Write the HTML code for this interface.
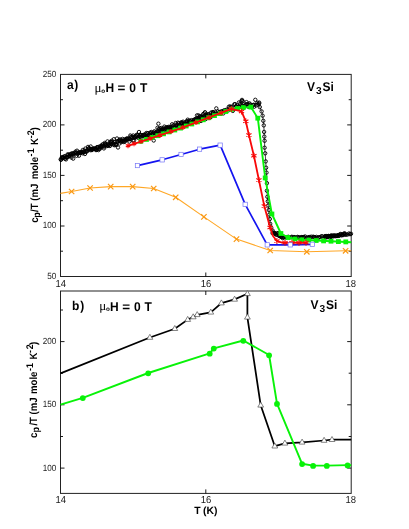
<!DOCTYPE html>
<html><head><meta charset="utf-8"><title>V3Si specific heat</title>
<style>
html,body{margin:0;padding:0;background:#fff;}
body{width:409px;height:529px;overflow:hidden;font-family:"Liberation Sans",sans-serif;}
svg{display:block;text-rendering:geometricPrecision;transform:translateZ(0);will-change:transform;font-family:"Liberation Sans",sans-serif;}
</style></head><body>
<svg width="409" height="529" viewBox="0 0 409 529">
<rect width="409" height="529" fill="#fff"/>
<rect x="60.5" y="74.4" width="290.7" height="202.1" fill="none" stroke="#222" stroke-width="1"/>
<path d="M60.5 251.2h2.5 M351.2 251.2h-2.5" stroke="#000" stroke-width="0.9"/>
<path d="M60.5 226.0h4.0 M351.2 226.0h-4.0" stroke="#000" stroke-width="0.9"/>
<path d="M60.5 200.7h2.5 M351.2 200.7h-2.5" stroke="#000" stroke-width="0.9"/>
<path d="M60.5 175.4h4.0 M351.2 175.4h-4.0" stroke="#000" stroke-width="0.9"/>
<path d="M60.5 150.2h2.5 M351.2 150.2h-2.5" stroke="#000" stroke-width="0.9"/>
<path d="M60.5 124.9h4.0 M351.2 124.9h-4.0" stroke="#000" stroke-width="0.9"/>
<path d="M60.5 99.7h2.5 M351.2 99.7h-2.5" stroke="#000" stroke-width="0.9"/>
<path d="M205.8 276.5v-4 M205.8 74.4v4" stroke="#000" stroke-width="0.9"/>
<rect x="60.5" y="291.0" width="290.7" height="202.4" fill="none" stroke="#222" stroke-width="1"/>
<path d="M60.5 468.1h4.0 M351.2 468.1h-4.0" stroke="#000" stroke-width="0.9"/>
<path d="M60.5 436.5h2.5 M351.2 436.5h-2.5" stroke="#000" stroke-width="0.9"/>
<path d="M60.5 404.8h4.0 M351.2 404.8h-4.0" stroke="#000" stroke-width="0.9"/>
<path d="M60.5 373.2h2.5 M351.2 373.2h-2.5" stroke="#000" stroke-width="0.9"/>
<path d="M60.5 341.6h4.0 M351.2 341.6h-4.0" stroke="#000" stroke-width="0.9"/>
<path d="M60.5 310.0h2.5 M351.2 310.0h-2.5" stroke="#000" stroke-width="0.9"/>
<path d="M205.8 493.4v-4 M205.8 291.0v4" stroke="#000" stroke-width="0.9"/>
<polyline fill="none" stroke="#ffa726" stroke-width="1.1" stroke-linejoin="round"  points="60.5,193.4 71.6,191.5 90.1,188.0 110.7,186.6 132.7,186.6 153.7,188.5 175.7,197.3 203.9,216.9 236.5,239.1 270.2,250.5 306.8,251.8 345.6,250.8 351.2,250.7"/>
<path d="M68.9 188.8l5.4 5.4M74.3 188.8l-5.4 5.4" stroke="#fa9812" stroke-width="1.2" fill="none"/>
<path d="M87.4 185.3l5.4 5.4M92.8 185.3l-5.4 5.4" stroke="#fa9812" stroke-width="1.2" fill="none"/>
<path d="M108.0 183.9l5.4 5.4M113.4 183.9l-5.4 5.4" stroke="#fa9812" stroke-width="1.2" fill="none"/>
<path d="M130.0 183.9l5.4 5.4M135.4 183.9l-5.4 5.4" stroke="#fa9812" stroke-width="1.2" fill="none"/>
<path d="M151.0 185.8l5.4 5.4M156.4 185.8l-5.4 5.4" stroke="#fa9812" stroke-width="1.2" fill="none"/>
<path d="M173.0 194.6l5.4 5.4M178.4 194.6l-5.4 5.4" stroke="#fa9812" stroke-width="1.2" fill="none"/>
<path d="M201.2 214.2l5.4 5.4M206.6 214.2l-5.4 5.4" stroke="#fa9812" stroke-width="1.2" fill="none"/>
<path d="M233.8 236.4l5.4 5.4M239.2 236.4l-5.4 5.4" stroke="#fa9812" stroke-width="1.2" fill="none"/>
<path d="M267.5 247.8l5.4 5.4M272.9 247.8l-5.4 5.4" stroke="#fa9812" stroke-width="1.2" fill="none"/>
<path d="M304.1 249.1l5.4 5.4M309.5 249.1l-5.4 5.4" stroke="#fa9812" stroke-width="1.2" fill="none"/>
<path d="M342.9 248.1l5.4 5.4M348.3 248.1l-5.4 5.4" stroke="#fa9812" stroke-width="1.2" fill="none"/>
<polyline fill="none" stroke="#1414f0" stroke-width="1.7" stroke-linejoin="round"  points="137.5,165.6 162.2,159.8 181.1,154.5 199.6,149.2 220.2,145.2 245.2,204.3 267.2,244.8 290.2,244.8 312.3,244.3"/>
<polyline fill="none" stroke="#000" stroke-width="0.7" stroke-linejoin="round"  points="60.5,158.2 110.0,144.0 145.0,135.3 180.0,125.0 242.0,104.5 259.0,103.2 259.8,107.1 261.6,111.4 262.6,115.7 263.3,120.8 263.8,125.4 264.1,131.9 264.3,136.6 264.6,140.8 264.6,147.7 265.2,153.3 265.7,161.4 266.1,167.7 266.5,172.6 266.9,183.2 266.9,190.7 267.4,196.8 267.8,201.3 268.3,205.6 268.8,210.0 269.3,214.6 269.8,219.0 270.2,223.8 271.2,227.5 272.6,230.5 274.4,233.2 276.5,234.8 279.0,235.9 281.5,236.6 330.0,236.8 351.0,234.0"/>
<circle cx="60.7" cy="159.4" r="1.7" fill="none" stroke="#000" stroke-width="0.92"/>
<circle cx="61.0" cy="159.8" r="1.7" fill="none" stroke="#000" stroke-width="0.92"/>
<circle cx="61.8" cy="157.5" r="1.7" fill="none" stroke="#000" stroke-width="0.92"/>
<circle cx="62.3" cy="158.1" r="1.7" fill="none" stroke="#000" stroke-width="0.92"/>
<circle cx="62.5" cy="157.1" r="1.7" fill="none" stroke="#000" stroke-width="0.92"/>
<circle cx="63.1" cy="157.7" r="1.7" fill="none" stroke="#000" stroke-width="0.92"/>
<circle cx="63.7" cy="157.6" r="1.7" fill="none" stroke="#000" stroke-width="0.92"/>
<circle cx="64.1" cy="156.5" r="1.7" fill="none" stroke="#000" stroke-width="0.92"/>
<circle cx="64.9" cy="158.8" r="1.7" fill="none" stroke="#000" stroke-width="0.92"/>
<circle cx="65.2" cy="156.2" r="1.7" fill="none" stroke="#000" stroke-width="0.92"/>
<circle cx="66.0" cy="159.4" r="1.7" fill="none" stroke="#000" stroke-width="0.92"/>
<circle cx="66.2" cy="157.4" r="1.7" fill="none" stroke="#000" stroke-width="0.92"/>
<circle cx="66.6" cy="157.4" r="1.7" fill="none" stroke="#000" stroke-width="0.92"/>
<circle cx="67.5" cy="157.1" r="1.7" fill="none" stroke="#000" stroke-width="0.92"/>
<circle cx="67.7" cy="154.3" r="1.7" fill="none" stroke="#000" stroke-width="0.92"/>
<circle cx="68.3" cy="154.9" r="1.7" fill="none" stroke="#000" stroke-width="0.92"/>
<circle cx="68.9" cy="156.3" r="1.7" fill="none" stroke="#000" stroke-width="0.92"/>
<circle cx="69.2" cy="155.9" r="1.7" fill="none" stroke="#000" stroke-width="0.92"/>
<circle cx="69.9" cy="154.3" r="1.7" fill="none" stroke="#000" stroke-width="0.92"/>
<circle cx="70.4" cy="155.9" r="1.7" fill="none" stroke="#000" stroke-width="0.92"/>
<circle cx="70.8" cy="154.4" r="1.7" fill="none" stroke="#000" stroke-width="0.92"/>
<circle cx="71.5" cy="157.6" r="1.7" fill="none" stroke="#000" stroke-width="0.92"/>
<circle cx="71.7" cy="153.3" r="1.7" fill="none" stroke="#000" stroke-width="0.92"/>
<circle cx="72.6" cy="153.9" r="1.7" fill="none" stroke="#000" stroke-width="0.92"/>
<circle cx="73.0" cy="153.6" r="1.7" fill="none" stroke="#000" stroke-width="0.92"/>
<circle cx="73.2" cy="158.6" r="1.7" fill="none" stroke="#000" stroke-width="0.92"/>
<circle cx="73.8" cy="154.4" r="1.7" fill="none" stroke="#000" stroke-width="0.92"/>
<circle cx="74.4" cy="153.4" r="1.7" fill="none" stroke="#000" stroke-width="0.92"/>
<circle cx="74.7" cy="152.9" r="1.7" fill="none" stroke="#000" stroke-width="0.92"/>
<circle cx="75.4" cy="151.7" r="1.7" fill="none" stroke="#000" stroke-width="0.92"/>
<circle cx="76.1" cy="152.8" r="1.7" fill="none" stroke="#000" stroke-width="0.92"/>
<circle cx="76.5" cy="155.8" r="1.7" fill="none" stroke="#000" stroke-width="0.92"/>
<circle cx="77.0" cy="150.7" r="1.7" fill="none" stroke="#000" stroke-width="0.92"/>
<circle cx="77.6" cy="154.1" r="1.7" fill="none" stroke="#000" stroke-width="0.92"/>
<circle cx="77.9" cy="152.9" r="1.7" fill="none" stroke="#000" stroke-width="0.92"/>
<circle cx="78.5" cy="152.6" r="1.7" fill="none" stroke="#000" stroke-width="0.92"/>
<circle cx="79.0" cy="155.7" r="1.7" fill="none" stroke="#000" stroke-width="0.92"/>
<circle cx="79.3" cy="152.7" r="1.7" fill="none" stroke="#000" stroke-width="0.92"/>
<circle cx="79.9" cy="152.5" r="1.7" fill="none" stroke="#000" stroke-width="0.92"/>
<circle cx="80.4" cy="152.2" r="1.7" fill="none" stroke="#000" stroke-width="0.92"/>
<circle cx="80.8" cy="152.8" r="1.7" fill="none" stroke="#000" stroke-width="0.92"/>
<circle cx="81.6" cy="152.5" r="1.7" fill="none" stroke="#000" stroke-width="0.92"/>
<circle cx="81.8" cy="152.1" r="1.7" fill="none" stroke="#000" stroke-width="0.92"/>
<circle cx="82.7" cy="153.3" r="1.7" fill="none" stroke="#000" stroke-width="0.92"/>
<circle cx="82.8" cy="150.0" r="1.7" fill="none" stroke="#000" stroke-width="0.92"/>
<circle cx="83.7" cy="152.1" r="1.7" fill="none" stroke="#000" stroke-width="0.92"/>
<circle cx="84.1" cy="152.2" r="1.7" fill="none" stroke="#000" stroke-width="0.92"/>
<circle cx="84.4" cy="150.4" r="1.7" fill="none" stroke="#000" stroke-width="0.92"/>
<circle cx="84.9" cy="154.0" r="1.7" fill="none" stroke="#000" stroke-width="0.92"/>
<circle cx="85.3" cy="148.6" r="1.7" fill="none" stroke="#000" stroke-width="0.92"/>
<circle cx="85.8" cy="151.1" r="1.7" fill="none" stroke="#000" stroke-width="0.92"/>
<circle cx="86.5" cy="151.8" r="1.7" fill="none" stroke="#000" stroke-width="0.92"/>
<circle cx="87.1" cy="150.6" r="1.7" fill="none" stroke="#000" stroke-width="0.92"/>
<circle cx="87.5" cy="150.6" r="1.7" fill="none" stroke="#000" stroke-width="0.92"/>
<circle cx="88.0" cy="146.9" r="1.7" fill="none" stroke="#000" stroke-width="0.92"/>
<circle cx="88.6" cy="148.6" r="1.7" fill="none" stroke="#000" stroke-width="0.92"/>
<circle cx="89.0" cy="148.3" r="1.7" fill="none" stroke="#000" stroke-width="0.92"/>
<circle cx="89.3" cy="148.4" r="1.7" fill="none" stroke="#000" stroke-width="0.92"/>
<circle cx="90.3" cy="150.2" r="1.7" fill="none" stroke="#000" stroke-width="0.92"/>
<circle cx="90.7" cy="146.5" r="1.7" fill="none" stroke="#000" stroke-width="0.92"/>
<circle cx="91.0" cy="148.9" r="1.7" fill="none" stroke="#000" stroke-width="0.92"/>
<circle cx="91.6" cy="149.7" r="1.7" fill="none" stroke="#000" stroke-width="0.92"/>
<circle cx="91.8" cy="150.1" r="1.7" fill="none" stroke="#000" stroke-width="0.92"/>
<circle cx="92.4" cy="149.5" r="1.7" fill="none" stroke="#000" stroke-width="0.92"/>
<circle cx="93.0" cy="148.9" r="1.7" fill="none" stroke="#000" stroke-width="0.92"/>
<circle cx="93.4" cy="148.8" r="1.7" fill="none" stroke="#000" stroke-width="0.92"/>
<circle cx="93.9" cy="148.4" r="1.7" fill="none" stroke="#000" stroke-width="0.92"/>
<circle cx="94.8" cy="148.6" r="1.7" fill="none" stroke="#000" stroke-width="0.92"/>
<circle cx="95.2" cy="148.9" r="1.7" fill="none" stroke="#000" stroke-width="0.92"/>
<circle cx="95.5" cy="149.1" r="1.7" fill="none" stroke="#000" stroke-width="0.92"/>
<circle cx="96.0" cy="150.1" r="1.7" fill="none" stroke="#000" stroke-width="0.92"/>
<circle cx="96.9" cy="149.8" r="1.7" fill="none" stroke="#000" stroke-width="0.92"/>
<circle cx="97.1" cy="147.1" r="1.7" fill="none" stroke="#000" stroke-width="0.92"/>
<circle cx="97.4" cy="147.7" r="1.7" fill="none" stroke="#000" stroke-width="0.92"/>
<circle cx="98.1" cy="147.2" r="1.7" fill="none" stroke="#000" stroke-width="0.92"/>
<circle cx="98.5" cy="150.1" r="1.7" fill="none" stroke="#000" stroke-width="0.92"/>
<circle cx="98.9" cy="148.9" r="1.7" fill="none" stroke="#000" stroke-width="0.92"/>
<circle cx="99.5" cy="146.5" r="1.7" fill="none" stroke="#000" stroke-width="0.92"/>
<circle cx="100.2" cy="148.6" r="1.7" fill="none" stroke="#000" stroke-width="0.92"/>
<circle cx="100.9" cy="146.9" r="1.7" fill="none" stroke="#000" stroke-width="0.92"/>
<circle cx="101.3" cy="146.1" r="1.7" fill="none" stroke="#000" stroke-width="0.92"/>
<circle cx="101.6" cy="145.3" r="1.7" fill="none" stroke="#000" stroke-width="0.92"/>
<circle cx="102.0" cy="146.5" r="1.7" fill="none" stroke="#000" stroke-width="0.92"/>
<circle cx="102.8" cy="144.2" r="1.7" fill="none" stroke="#000" stroke-width="0.92"/>
<circle cx="103.1" cy="146.4" r="1.7" fill="none" stroke="#000" stroke-width="0.92"/>
<circle cx="103.9" cy="148.4" r="1.7" fill="none" stroke="#000" stroke-width="0.92"/>
<circle cx="104.4" cy="146.6" r="1.7" fill="none" stroke="#000" stroke-width="0.92"/>
<circle cx="104.8" cy="142.9" r="1.7" fill="none" stroke="#000" stroke-width="0.92"/>
<circle cx="105.1" cy="144.0" r="1.7" fill="none" stroke="#000" stroke-width="0.92"/>
<circle cx="105.5" cy="145.1" r="1.7" fill="none" stroke="#000" stroke-width="0.92"/>
<circle cx="106.0" cy="144.9" r="1.7" fill="none" stroke="#000" stroke-width="0.92"/>
<circle cx="106.8" cy="146.1" r="1.7" fill="none" stroke="#000" stroke-width="0.92"/>
<circle cx="107.5" cy="141.4" r="1.7" fill="none" stroke="#000" stroke-width="0.92"/>
<circle cx="108.0" cy="145.7" r="1.7" fill="none" stroke="#000" stroke-width="0.92"/>
<circle cx="108.5" cy="143.7" r="1.7" fill="none" stroke="#000" stroke-width="0.92"/>
<circle cx="108.6" cy="145.2" r="1.7" fill="none" stroke="#000" stroke-width="0.92"/>
<circle cx="109.1" cy="144.9" r="1.7" fill="none" stroke="#000" stroke-width="0.92"/>
<circle cx="109.9" cy="146.0" r="1.7" fill="none" stroke="#000" stroke-width="0.92"/>
<circle cx="110.4" cy="141.7" r="1.7" fill="none" stroke="#000" stroke-width="0.92"/>
<circle cx="110.9" cy="144.0" r="1.7" fill="none" stroke="#000" stroke-width="0.92"/>
<circle cx="111.1" cy="142.0" r="1.7" fill="none" stroke="#000" stroke-width="0.92"/>
<circle cx="111.9" cy="140.7" r="1.7" fill="none" stroke="#000" stroke-width="0.92"/>
<circle cx="112.4" cy="142.4" r="1.7" fill="none" stroke="#000" stroke-width="0.92"/>
<circle cx="113.0" cy="143.4" r="1.7" fill="none" stroke="#000" stroke-width="0.92"/>
<circle cx="113.3" cy="144.4" r="1.7" fill="none" stroke="#000" stroke-width="0.92"/>
<circle cx="113.8" cy="139.2" r="1.7" fill="none" stroke="#000" stroke-width="0.92"/>
<circle cx="114.3" cy="145.2" r="1.7" fill="none" stroke="#000" stroke-width="0.92"/>
<circle cx="114.7" cy="142.0" r="1.7" fill="none" stroke="#000" stroke-width="0.92"/>
<circle cx="115.2" cy="144.6" r="1.7" fill="none" stroke="#000" stroke-width="0.92"/>
<circle cx="116.1" cy="145.1" r="1.7" fill="none" stroke="#000" stroke-width="0.92"/>
<circle cx="116.3" cy="144.3" r="1.7" fill="none" stroke="#000" stroke-width="0.92"/>
<circle cx="117.0" cy="138.5" r="1.7" fill="none" stroke="#000" stroke-width="0.92"/>
<circle cx="117.4" cy="141.3" r="1.7" fill="none" stroke="#000" stroke-width="0.92"/>
<circle cx="117.7" cy="141.8" r="1.7" fill="none" stroke="#000" stroke-width="0.92"/>
<circle cx="118.7" cy="140.7" r="1.7" fill="none" stroke="#000" stroke-width="0.92"/>
<circle cx="119.2" cy="140.1" r="1.7" fill="none" stroke="#000" stroke-width="0.92"/>
<circle cx="119.5" cy="143.5" r="1.7" fill="none" stroke="#000" stroke-width="0.92"/>
<circle cx="119.9" cy="139.4" r="1.7" fill="none" stroke="#000" stroke-width="0.92"/>
<circle cx="120.4" cy="141.0" r="1.7" fill="none" stroke="#000" stroke-width="0.92"/>
<circle cx="121.1" cy="142.2" r="1.7" fill="none" stroke="#000" stroke-width="0.92"/>
<circle cx="121.5" cy="140.4" r="1.7" fill="none" stroke="#000" stroke-width="0.92"/>
<circle cx="122.3" cy="141.2" r="1.7" fill="none" stroke="#000" stroke-width="0.92"/>
<circle cx="122.5" cy="138.9" r="1.7" fill="none" stroke="#000" stroke-width="0.92"/>
<circle cx="123.3" cy="141.1" r="1.7" fill="none" stroke="#000" stroke-width="0.92"/>
<circle cx="123.6" cy="142.0" r="1.7" fill="none" stroke="#000" stroke-width="0.92"/>
<circle cx="124.2" cy="139.5" r="1.7" fill="none" stroke="#000" stroke-width="0.92"/>
<circle cx="124.7" cy="141.8" r="1.7" fill="none" stroke="#000" stroke-width="0.92"/>
<circle cx="125.0" cy="140.3" r="1.7" fill="none" stroke="#000" stroke-width="0.92"/>
<circle cx="125.4" cy="140.3" r="1.7" fill="none" stroke="#000" stroke-width="0.92"/>
<circle cx="126.2" cy="139.0" r="1.7" fill="none" stroke="#000" stroke-width="0.92"/>
<circle cx="126.8" cy="138.4" r="1.7" fill="none" stroke="#000" stroke-width="0.92"/>
<circle cx="127.3" cy="139.1" r="1.7" fill="none" stroke="#000" stroke-width="0.92"/>
<circle cx="127.8" cy="139.6" r="1.7" fill="none" stroke="#000" stroke-width="0.92"/>
<circle cx="128.3" cy="138.6" r="1.7" fill="none" stroke="#000" stroke-width="0.92"/>
<circle cx="128.7" cy="138.8" r="1.7" fill="none" stroke="#000" stroke-width="0.92"/>
<circle cx="129.3" cy="141.6" r="1.7" fill="none" stroke="#000" stroke-width="0.92"/>
<circle cx="129.8" cy="139.1" r="1.7" fill="none" stroke="#000" stroke-width="0.92"/>
<circle cx="130.3" cy="135.5" r="1.7" fill="none" stroke="#000" stroke-width="0.92"/>
<circle cx="130.9" cy="136.8" r="1.7" fill="none" stroke="#000" stroke-width="0.92"/>
<circle cx="131.5" cy="138.4" r="1.7" fill="none" stroke="#000" stroke-width="0.92"/>
<circle cx="131.9" cy="136.7" r="1.7" fill="none" stroke="#000" stroke-width="0.92"/>
<circle cx="132.6" cy="137.8" r="1.7" fill="none" stroke="#000" stroke-width="0.92"/>
<circle cx="133.0" cy="140.6" r="1.7" fill="none" stroke="#000" stroke-width="0.92"/>
<circle cx="133.3" cy="135.5" r="1.7" fill="none" stroke="#000" stroke-width="0.92"/>
<circle cx="134.0" cy="140.5" r="1.7" fill="none" stroke="#000" stroke-width="0.92"/>
<circle cx="134.3" cy="136.8" r="1.7" fill="none" stroke="#000" stroke-width="0.92"/>
<circle cx="134.8" cy="137.1" r="1.7" fill="none" stroke="#000" stroke-width="0.92"/>
<circle cx="135.3" cy="137.7" r="1.7" fill="none" stroke="#000" stroke-width="0.92"/>
<circle cx="135.8" cy="136.1" r="1.7" fill="none" stroke="#000" stroke-width="0.92"/>
<circle cx="136.7" cy="134.8" r="1.7" fill="none" stroke="#000" stroke-width="0.92"/>
<circle cx="136.8" cy="136.6" r="1.7" fill="none" stroke="#000" stroke-width="0.92"/>
<circle cx="137.4" cy="134.8" r="1.7" fill="none" stroke="#000" stroke-width="0.92"/>
<circle cx="138.2" cy="137.8" r="1.7" fill="none" stroke="#000" stroke-width="0.92"/>
<circle cx="138.8" cy="136.4" r="1.7" fill="none" stroke="#000" stroke-width="0.92"/>
<circle cx="139.0" cy="132.0" r="1.7" fill="none" stroke="#000" stroke-width="0.92"/>
<circle cx="139.8" cy="136.7" r="1.7" fill="none" stroke="#000" stroke-width="0.92"/>
<circle cx="139.9" cy="134.7" r="1.7" fill="none" stroke="#000" stroke-width="0.92"/>
<circle cx="140.5" cy="136.9" r="1.7" fill="none" stroke="#000" stroke-width="0.92"/>
<circle cx="141.0" cy="135.0" r="1.7" fill="none" stroke="#000" stroke-width="0.92"/>
<circle cx="141.4" cy="138.1" r="1.7" fill="none" stroke="#000" stroke-width="0.92"/>
<circle cx="142.2" cy="135.5" r="1.7" fill="none" stroke="#000" stroke-width="0.92"/>
<circle cx="142.6" cy="135.7" r="1.7" fill="none" stroke="#000" stroke-width="0.92"/>
<circle cx="143.3" cy="134.9" r="1.7" fill="none" stroke="#000" stroke-width="0.92"/>
<circle cx="144.0" cy="135.2" r="1.7" fill="none" stroke="#000" stroke-width="0.92"/>
<circle cx="144.4" cy="135.9" r="1.7" fill="none" stroke="#000" stroke-width="0.92"/>
<circle cx="144.6" cy="135.0" r="1.7" fill="none" stroke="#000" stroke-width="0.92"/>
<circle cx="145.0" cy="135.2" r="1.7" fill="none" stroke="#000" stroke-width="0.92"/>
<circle cx="145.6" cy="133.7" r="1.7" fill="none" stroke="#000" stroke-width="0.92"/>
<circle cx="146.2" cy="137.0" r="1.7" fill="none" stroke="#000" stroke-width="0.92"/>
<circle cx="146.7" cy="133.0" r="1.7" fill="none" stroke="#000" stroke-width="0.92"/>
<circle cx="147.1" cy="136.1" r="1.7" fill="none" stroke="#000" stroke-width="0.92"/>
<circle cx="147.9" cy="133.2" r="1.7" fill="none" stroke="#000" stroke-width="0.92"/>
<circle cx="148.1" cy="136.2" r="1.7" fill="none" stroke="#000" stroke-width="0.92"/>
<circle cx="148.8" cy="134.7" r="1.7" fill="none" stroke="#000" stroke-width="0.92"/>
<circle cx="149.2" cy="135.7" r="1.7" fill="none" stroke="#000" stroke-width="0.92"/>
<circle cx="150.0" cy="132.7" r="1.7" fill="none" stroke="#000" stroke-width="0.92"/>
<circle cx="150.2" cy="133.8" r="1.7" fill="none" stroke="#000" stroke-width="0.92"/>
<circle cx="151.1" cy="132.7" r="1.7" fill="none" stroke="#000" stroke-width="0.92"/>
<circle cx="151.4" cy="132.0" r="1.7" fill="none" stroke="#000" stroke-width="0.92"/>
<circle cx="152.2" cy="134.4" r="1.7" fill="none" stroke="#000" stroke-width="0.92"/>
<circle cx="152.3" cy="134.0" r="1.7" fill="none" stroke="#000" stroke-width="0.92"/>
<circle cx="152.8" cy="134.0" r="1.7" fill="none" stroke="#000" stroke-width="0.92"/>
<circle cx="153.3" cy="132.7" r="1.7" fill="none" stroke="#000" stroke-width="0.92"/>
<circle cx="153.9" cy="132.7" r="1.7" fill="none" stroke="#000" stroke-width="0.92"/>
<circle cx="154.4" cy="131.3" r="1.7" fill="none" stroke="#000" stroke-width="0.92"/>
<circle cx="154.9" cy="134.4" r="1.7" fill="none" stroke="#000" stroke-width="0.92"/>
<circle cx="155.6" cy="132.4" r="1.7" fill="none" stroke="#000" stroke-width="0.92"/>
<circle cx="155.8" cy="133.0" r="1.7" fill="none" stroke="#000" stroke-width="0.92"/>
<circle cx="156.5" cy="134.0" r="1.7" fill="none" stroke="#000" stroke-width="0.92"/>
<circle cx="157.1" cy="131.6" r="1.7" fill="none" stroke="#000" stroke-width="0.92"/>
<circle cx="157.5" cy="127.8" r="1.7" fill="none" stroke="#000" stroke-width="0.92"/>
<circle cx="157.9" cy="131.6" r="1.7" fill="none" stroke="#000" stroke-width="0.92"/>
<circle cx="158.8" cy="129.2" r="1.7" fill="none" stroke="#000" stroke-width="0.92"/>
<circle cx="159.3" cy="131.4" r="1.7" fill="none" stroke="#000" stroke-width="0.92"/>
<circle cx="159.6" cy="128.3" r="1.7" fill="none" stroke="#000" stroke-width="0.92"/>
<circle cx="160.4" cy="130.2" r="1.7" fill="none" stroke="#000" stroke-width="0.92"/>
<circle cx="160.6" cy="131.4" r="1.7" fill="none" stroke="#000" stroke-width="0.92"/>
<circle cx="161.3" cy="128.0" r="1.7" fill="none" stroke="#000" stroke-width="0.92"/>
<circle cx="161.7" cy="129.7" r="1.7" fill="none" stroke="#000" stroke-width="0.92"/>
<circle cx="162.1" cy="130.2" r="1.7" fill="none" stroke="#000" stroke-width="0.92"/>
<circle cx="162.5" cy="129.6" r="1.7" fill="none" stroke="#000" stroke-width="0.92"/>
<circle cx="163.1" cy="128.4" r="1.7" fill="none" stroke="#000" stroke-width="0.92"/>
<circle cx="163.6" cy="131.0" r="1.7" fill="none" stroke="#000" stroke-width="0.92"/>
<circle cx="164.4" cy="126.6" r="1.7" fill="none" stroke="#000" stroke-width="0.92"/>
<circle cx="164.7" cy="129.1" r="1.7" fill="none" stroke="#000" stroke-width="0.92"/>
<circle cx="165.3" cy="130.1" r="1.7" fill="none" stroke="#000" stroke-width="0.92"/>
<circle cx="165.7" cy="127.6" r="1.7" fill="none" stroke="#000" stroke-width="0.92"/>
<circle cx="166.6" cy="128.9" r="1.7" fill="none" stroke="#000" stroke-width="0.92"/>
<circle cx="167.1" cy="127.2" r="1.7" fill="none" stroke="#000" stroke-width="0.92"/>
<circle cx="167.6" cy="127.8" r="1.7" fill="none" stroke="#000" stroke-width="0.92"/>
<circle cx="167.8" cy="128.0" r="1.7" fill="none" stroke="#000" stroke-width="0.92"/>
<circle cx="168.4" cy="128.0" r="1.7" fill="none" stroke="#000" stroke-width="0.92"/>
<circle cx="168.9" cy="126.8" r="1.7" fill="none" stroke="#000" stroke-width="0.92"/>
<circle cx="169.5" cy="127.6" r="1.7" fill="none" stroke="#000" stroke-width="0.92"/>
<circle cx="169.7" cy="127.5" r="1.7" fill="none" stroke="#000" stroke-width="0.92"/>
<circle cx="170.4" cy="127.9" r="1.7" fill="none" stroke="#000" stroke-width="0.92"/>
<circle cx="170.8" cy="128.5" r="1.7" fill="none" stroke="#000" stroke-width="0.92"/>
<circle cx="171.4" cy="127.2" r="1.7" fill="none" stroke="#000" stroke-width="0.92"/>
<circle cx="172.1" cy="124.3" r="1.7" fill="none" stroke="#000" stroke-width="0.92"/>
<circle cx="172.6" cy="126.2" r="1.7" fill="none" stroke="#000" stroke-width="0.92"/>
<circle cx="173.2" cy="127.6" r="1.7" fill="none" stroke="#000" stroke-width="0.92"/>
<circle cx="173.5" cy="125.3" r="1.7" fill="none" stroke="#000" stroke-width="0.92"/>
<circle cx="174.3" cy="127.5" r="1.7" fill="none" stroke="#000" stroke-width="0.92"/>
<circle cx="174.7" cy="128.0" r="1.7" fill="none" stroke="#000" stroke-width="0.92"/>
<circle cx="174.9" cy="127.6" r="1.7" fill="none" stroke="#000" stroke-width="0.92"/>
<circle cx="175.7" cy="123.0" r="1.7" fill="none" stroke="#000" stroke-width="0.92"/>
<circle cx="176.3" cy="125.8" r="1.7" fill="none" stroke="#000" stroke-width="0.92"/>
<circle cx="176.7" cy="124.6" r="1.7" fill="none" stroke="#000" stroke-width="0.92"/>
<circle cx="177.2" cy="126.6" r="1.7" fill="none" stroke="#000" stroke-width="0.92"/>
<circle cx="177.9" cy="122.7" r="1.7" fill="none" stroke="#000" stroke-width="0.92"/>
<circle cx="178.2" cy="126.7" r="1.7" fill="none" stroke="#000" stroke-width="0.92"/>
<circle cx="178.8" cy="123.3" r="1.7" fill="none" stroke="#000" stroke-width="0.92"/>
<circle cx="179.1" cy="125.5" r="1.7" fill="none" stroke="#000" stroke-width="0.92"/>
<circle cx="179.7" cy="124.7" r="1.7" fill="none" stroke="#000" stroke-width="0.92"/>
<circle cx="180.1" cy="125.3" r="1.7" fill="none" stroke="#000" stroke-width="0.92"/>
<circle cx="180.9" cy="122.6" r="1.7" fill="none" stroke="#000" stroke-width="0.92"/>
<circle cx="181.5" cy="123.2" r="1.7" fill="none" stroke="#000" stroke-width="0.92"/>
<circle cx="181.7" cy="122.4" r="1.7" fill="none" stroke="#000" stroke-width="0.92"/>
<circle cx="182.7" cy="123.5" r="1.7" fill="none" stroke="#000" stroke-width="0.92"/>
<circle cx="183.1" cy="121.7" r="1.7" fill="none" stroke="#000" stroke-width="0.92"/>
<circle cx="183.8" cy="125.3" r="1.7" fill="none" stroke="#000" stroke-width="0.92"/>
<circle cx="184.1" cy="124.0" r="1.7" fill="none" stroke="#000" stroke-width="0.92"/>
<circle cx="184.6" cy="122.7" r="1.7" fill="none" stroke="#000" stroke-width="0.92"/>
<circle cx="185.2" cy="124.9" r="1.7" fill="none" stroke="#000" stroke-width="0.92"/>
<circle cx="186.1" cy="124.0" r="1.7" fill="none" stroke="#000" stroke-width="0.92"/>
<circle cx="186.4" cy="122.0" r="1.7" fill="none" stroke="#000" stroke-width="0.92"/>
<circle cx="187.0" cy="121.1" r="1.7" fill="none" stroke="#000" stroke-width="0.92"/>
<circle cx="187.7" cy="119.7" r="1.7" fill="none" stroke="#000" stroke-width="0.92"/>
<circle cx="188.3" cy="122.4" r="1.7" fill="none" stroke="#000" stroke-width="0.92"/>
<circle cx="188.6" cy="121.9" r="1.7" fill="none" stroke="#000" stroke-width="0.92"/>
<circle cx="189.5" cy="120.7" r="1.7" fill="none" stroke="#000" stroke-width="0.92"/>
<circle cx="189.6" cy="123.0" r="1.7" fill="none" stroke="#000" stroke-width="0.92"/>
<circle cx="190.2" cy="120.8" r="1.7" fill="none" stroke="#000" stroke-width="0.92"/>
<circle cx="191.1" cy="122.8" r="1.7" fill="none" stroke="#000" stroke-width="0.92"/>
<circle cx="191.7" cy="120.1" r="1.7" fill="none" stroke="#000" stroke-width="0.92"/>
<circle cx="192.1" cy="122.1" r="1.7" fill="none" stroke="#000" stroke-width="0.92"/>
<circle cx="192.7" cy="122.4" r="1.7" fill="none" stroke="#000" stroke-width="0.92"/>
<circle cx="193.1" cy="122.1" r="1.7" fill="none" stroke="#000" stroke-width="0.92"/>
<circle cx="194.1" cy="120.0" r="1.7" fill="none" stroke="#000" stroke-width="0.92"/>
<circle cx="194.4" cy="119.6" r="1.7" fill="none" stroke="#000" stroke-width="0.92"/>
<circle cx="195.1" cy="120.9" r="1.7" fill="none" stroke="#000" stroke-width="0.92"/>
<circle cx="195.4" cy="119.0" r="1.7" fill="none" stroke="#000" stroke-width="0.92"/>
<circle cx="195.9" cy="120.1" r="1.7" fill="none" stroke="#000" stroke-width="0.92"/>
<circle cx="196.7" cy="118.6" r="1.7" fill="none" stroke="#000" stroke-width="0.92"/>
<circle cx="197.0" cy="115.4" r="1.7" fill="none" stroke="#000" stroke-width="0.92"/>
<circle cx="197.6" cy="118.1" r="1.7" fill="none" stroke="#000" stroke-width="0.92"/>
<circle cx="198.5" cy="115.4" r="1.7" fill="none" stroke="#000" stroke-width="0.92"/>
<circle cx="199.0" cy="118.0" r="1.7" fill="none" stroke="#000" stroke-width="0.92"/>
<circle cx="199.3" cy="119.3" r="1.7" fill="none" stroke="#000" stroke-width="0.92"/>
<circle cx="199.8" cy="116.9" r="1.7" fill="none" stroke="#000" stroke-width="0.92"/>
<circle cx="200.3" cy="116.2" r="1.7" fill="none" stroke="#000" stroke-width="0.92"/>
<circle cx="201.1" cy="117.6" r="1.7" fill="none" stroke="#000" stroke-width="0.92"/>
<circle cx="201.5" cy="116.6" r="1.7" fill="none" stroke="#000" stroke-width="0.92"/>
<circle cx="202.5" cy="118.0" r="1.7" fill="none" stroke="#000" stroke-width="0.92"/>
<circle cx="202.6" cy="117.0" r="1.7" fill="none" stroke="#000" stroke-width="0.92"/>
<circle cx="203.2" cy="114.1" r="1.7" fill="none" stroke="#000" stroke-width="0.92"/>
<circle cx="204.2" cy="115.7" r="1.7" fill="none" stroke="#000" stroke-width="0.92"/>
<circle cx="204.4" cy="113.4" r="1.7" fill="none" stroke="#000" stroke-width="0.92"/>
<circle cx="205.0" cy="112.2" r="1.7" fill="none" stroke="#000" stroke-width="0.92"/>
<circle cx="205.7" cy="119.1" r="1.7" fill="none" stroke="#000" stroke-width="0.92"/>
<circle cx="206.2" cy="114.8" r="1.7" fill="none" stroke="#000" stroke-width="0.92"/>
<circle cx="206.6" cy="116.2" r="1.7" fill="none" stroke="#000" stroke-width="0.92"/>
<circle cx="207.2" cy="116.1" r="1.7" fill="none" stroke="#000" stroke-width="0.92"/>
<circle cx="208.2" cy="114.1" r="1.7" fill="none" stroke="#000" stroke-width="0.92"/>
<circle cx="208.4" cy="114.9" r="1.7" fill="none" stroke="#000" stroke-width="0.92"/>
<circle cx="208.9" cy="116.6" r="1.7" fill="none" stroke="#000" stroke-width="0.92"/>
<circle cx="209.6" cy="117.5" r="1.7" fill="none" stroke="#000" stroke-width="0.92"/>
<circle cx="210.4" cy="113.6" r="1.7" fill="none" stroke="#000" stroke-width="0.92"/>
<circle cx="210.8" cy="117.1" r="1.7" fill="none" stroke="#000" stroke-width="0.92"/>
<circle cx="211.4" cy="112.4" r="1.7" fill="none" stroke="#000" stroke-width="0.92"/>
<circle cx="212.0" cy="116.0" r="1.7" fill="none" stroke="#000" stroke-width="0.92"/>
<circle cx="212.4" cy="114.4" r="1.7" fill="none" stroke="#000" stroke-width="0.92"/>
<circle cx="213.2" cy="112.8" r="1.7" fill="none" stroke="#000" stroke-width="0.92"/>
<circle cx="213.3" cy="112.5" r="1.7" fill="none" stroke="#000" stroke-width="0.92"/>
<circle cx="214.4" cy="114.2" r="1.7" fill="none" stroke="#000" stroke-width="0.92"/>
<circle cx="214.6" cy="114.2" r="1.7" fill="none" stroke="#000" stroke-width="0.92"/>
<circle cx="215.3" cy="112.5" r="1.7" fill="none" stroke="#000" stroke-width="0.92"/>
<circle cx="216.3" cy="108.4" r="1.7" fill="none" stroke="#000" stroke-width="0.92"/>
<circle cx="217.8" cy="111.4" r="1.7" fill="none" stroke="#000" stroke-width="0.92"/>
<circle cx="218.5" cy="113.6" r="1.7" fill="none" stroke="#000" stroke-width="0.92"/>
<circle cx="219.3" cy="112.0" r="1.7" fill="none" stroke="#000" stroke-width="0.92"/>
<circle cx="221.1" cy="111.7" r="1.7" fill="none" stroke="#000" stroke-width="0.92"/>
<circle cx="221.7" cy="111.3" r="1.7" fill="none" stroke="#000" stroke-width="0.92"/>
<circle cx="223.3" cy="113.4" r="1.7" fill="none" stroke="#000" stroke-width="0.92"/>
<circle cx="223.8" cy="110.6" r="1.7" fill="none" stroke="#000" stroke-width="0.92"/>
<circle cx="224.4" cy="110.5" r="1.7" fill="none" stroke="#000" stroke-width="0.92"/>
<circle cx="225.7" cy="110.3" r="1.7" fill="none" stroke="#000" stroke-width="0.92"/>
<circle cx="226.7" cy="109.6" r="1.7" fill="none" stroke="#000" stroke-width="0.92"/>
<circle cx="228.1" cy="110.5" r="1.7" fill="none" stroke="#000" stroke-width="0.92"/>
<circle cx="228.9" cy="106.7" r="1.7" fill="none" stroke="#000" stroke-width="0.92"/>
<circle cx="230.0" cy="106.5" r="1.7" fill="none" stroke="#000" stroke-width="0.92"/>
<circle cx="230.9" cy="107.4" r="1.7" fill="none" stroke="#000" stroke-width="0.92"/>
<circle cx="231.7" cy="106.7" r="1.7" fill="none" stroke="#000" stroke-width="0.92"/>
<circle cx="232.8" cy="110.9" r="1.7" fill="none" stroke="#000" stroke-width="0.92"/>
<circle cx="234.2" cy="104.5" r="1.7" fill="none" stroke="#000" stroke-width="0.92"/>
<circle cx="235.0" cy="104.1" r="1.7" fill="none" stroke="#000" stroke-width="0.92"/>
<circle cx="236.1" cy="106.0" r="1.7" fill="none" stroke="#000" stroke-width="0.92"/>
<circle cx="237.3" cy="107.1" r="1.7" fill="none" stroke="#000" stroke-width="0.92"/>
<circle cx="238.8" cy="106.8" r="1.7" fill="none" stroke="#000" stroke-width="0.92"/>
<circle cx="238.9" cy="102.5" r="1.7" fill="none" stroke="#000" stroke-width="0.92"/>
<circle cx="240.0" cy="103.9" r="1.7" fill="none" stroke="#000" stroke-width="0.92"/>
<circle cx="241.5" cy="101.1" r="1.7" fill="none" stroke="#000" stroke-width="0.92"/>
<circle cx="158.4" cy="123.7" r="1.7" fill="none" stroke="#000" stroke-width="0.92"/>
<circle cx="153.7" cy="140.5" r="1.7" fill="none" stroke="#000" stroke-width="0.92"/>
<circle cx="242.0" cy="99.9" r="1.7" fill="none" stroke="#000" stroke-width="0.92"/>
<circle cx="201.0" cy="121.0" r="1.7" fill="none" stroke="#000" stroke-width="0.92"/>
<circle cx="213.0" cy="112.0" r="1.7" fill="none" stroke="#000" stroke-width="0.92"/>
<circle cx="118.0" cy="147.5" r="1.7" fill="none" stroke="#000" stroke-width="0.92"/>
<circle cx="240.5" cy="106.8" r="1.7" fill="none" stroke="#000" stroke-width="0.92"/>
<circle cx="241.6" cy="104.9" r="1.7" fill="none" stroke="#000" stroke-width="0.92"/>
<circle cx="242.4" cy="107.8" r="1.7" fill="none" stroke="#000" stroke-width="0.92"/>
<circle cx="242.7" cy="101.1" r="1.7" fill="none" stroke="#000" stroke-width="0.92"/>
<circle cx="243.4" cy="106.1" r="1.7" fill="none" stroke="#000" stroke-width="0.92"/>
<circle cx="244.7" cy="106.6" r="1.7" fill="none" stroke="#000" stroke-width="0.92"/>
<circle cx="245.8" cy="104.3" r="1.7" fill="none" stroke="#000" stroke-width="0.92"/>
<circle cx="246.5" cy="102.1" r="1.7" fill="none" stroke="#000" stroke-width="0.92"/>
<circle cx="247.0" cy="104.2" r="1.7" fill="none" stroke="#000" stroke-width="0.92"/>
<circle cx="248.2" cy="104.4" r="1.7" fill="none" stroke="#000" stroke-width="0.92"/>
<circle cx="248.5" cy="106.8" r="1.7" fill="none" stroke="#000" stroke-width="0.92"/>
<circle cx="249.4" cy="103.3" r="1.7" fill="none" stroke="#000" stroke-width="0.92"/>
<circle cx="250.1" cy="104.5" r="1.7" fill="none" stroke="#000" stroke-width="0.92"/>
<circle cx="251.4" cy="107.0" r="1.7" fill="none" stroke="#000" stroke-width="0.92"/>
<circle cx="251.8" cy="106.4" r="1.7" fill="none" stroke="#000" stroke-width="0.92"/>
<circle cx="253.0" cy="105.3" r="1.7" fill="none" stroke="#000" stroke-width="0.92"/>
<circle cx="253.7" cy="104.7" r="1.7" fill="none" stroke="#000" stroke-width="0.92"/>
<circle cx="254.2" cy="106.7" r="1.7" fill="none" stroke="#000" stroke-width="0.92"/>
<circle cx="255.3" cy="99.8" r="1.7" fill="none" stroke="#000" stroke-width="0.92"/>
<circle cx="256.4" cy="105.3" r="1.7" fill="none" stroke="#000" stroke-width="0.92"/>
<circle cx="257.4" cy="102.8" r="1.7" fill="none" stroke="#000" stroke-width="0.92"/>
<circle cx="257.7" cy="104.3" r="1.7" fill="none" stroke="#000" stroke-width="0.92"/>
<circle cx="259.1" cy="103.6" r="1.7" fill="none" stroke="#000" stroke-width="0.92"/>
<circle cx="259.2" cy="102.6" r="1.7" fill="none" stroke="#000" stroke-width="0.92"/>
<circle cx="259.8" cy="107.1" r="1.7" fill="none" stroke="#000" stroke-width="0.92"/>
<circle cx="261.6" cy="111.4" r="1.7" fill="none" stroke="#000" stroke-width="0.92"/>
<circle cx="262.6" cy="115.7" r="1.7" fill="none" stroke="#000" stroke-width="0.92"/>
<circle cx="263.3" cy="120.8" r="1.7" fill="none" stroke="#000" stroke-width="0.92"/>
<circle cx="263.8" cy="125.4" r="1.7" fill="none" stroke="#000" stroke-width="0.92"/>
<circle cx="264.1" cy="131.9" r="1.7" fill="none" stroke="#000" stroke-width="0.92"/>
<circle cx="264.3" cy="136.6" r="1.7" fill="none" stroke="#000" stroke-width="0.92"/>
<circle cx="264.6" cy="140.8" r="1.7" fill="none" stroke="#000" stroke-width="0.92"/>
<circle cx="264.6" cy="147.7" r="1.7" fill="none" stroke="#000" stroke-width="0.92"/>
<circle cx="265.2" cy="153.3" r="1.7" fill="none" stroke="#000" stroke-width="0.92"/>
<circle cx="265.7" cy="161.4" r="1.7" fill="none" stroke="#000" stroke-width="0.92"/>
<circle cx="266.1" cy="167.7" r="1.7" fill="none" stroke="#000" stroke-width="0.92"/>
<circle cx="266.5" cy="172.6" r="1.7" fill="none" stroke="#000" stroke-width="0.92"/>
<circle cx="266.9" cy="183.2" r="1.7" fill="none" stroke="#000" stroke-width="0.92"/>
<circle cx="266.9" cy="190.7" r="1.7" fill="none" stroke="#000" stroke-width="0.92"/>
<circle cx="267.4" cy="196.8" r="1.7" fill="none" stroke="#000" stroke-width="0.92"/>
<circle cx="267.8" cy="201.3" r="1.7" fill="none" stroke="#000" stroke-width="0.92"/>
<circle cx="268.3" cy="205.6" r="1.7" fill="none" stroke="#000" stroke-width="0.92"/>
<circle cx="268.8" cy="210.0" r="1.7" fill="none" stroke="#000" stroke-width="0.92"/>
<circle cx="269.3" cy="214.6" r="1.7" fill="none" stroke="#000" stroke-width="0.92"/>
<circle cx="269.8" cy="219.0" r="1.7" fill="none" stroke="#000" stroke-width="0.92"/>
<circle cx="270.2" cy="223.8" r="1.7" fill="none" stroke="#000" stroke-width="0.92"/>
<circle cx="271.2" cy="227.5" r="1.7" fill="none" stroke="#000" stroke-width="0.92"/>
<circle cx="272.6" cy="230.5" r="1.7" fill="none" stroke="#000" stroke-width="0.92"/>
<circle cx="274.4" cy="233.2" r="1.7" fill="none" stroke="#000" stroke-width="0.92"/>
<circle cx="276.5" cy="234.8" r="1.7" fill="none" stroke="#000" stroke-width="0.92"/>
<circle cx="279.0" cy="235.9" r="1.7" fill="none" stroke="#000" stroke-width="0.92"/>
<circle cx="281.5" cy="236.6" r="1.7" fill="none" stroke="#000" stroke-width="0.92"/>
<circle cx="283.6" cy="237.2" r="1.7" fill="none" stroke="#000" stroke-width="0.92"/>
<circle cx="284.5" cy="237.0" r="1.7" fill="none" stroke="#000" stroke-width="0.92"/>
<circle cx="286.3" cy="237.6" r="1.7" fill="none" stroke="#000" stroke-width="0.92"/>
<circle cx="286.7" cy="237.2" r="1.7" fill="none" stroke="#000" stroke-width="0.92"/>
<circle cx="288.3" cy="236.8" r="1.7" fill="none" stroke="#000" stroke-width="0.92"/>
<circle cx="289.4" cy="237.5" r="1.7" fill="none" stroke="#000" stroke-width="0.92"/>
<circle cx="291.3" cy="237.2" r="1.7" fill="none" stroke="#000" stroke-width="0.92"/>
<circle cx="291.8" cy="236.8" r="1.7" fill="none" stroke="#000" stroke-width="0.92"/>
<circle cx="294.0" cy="237.0" r="1.7" fill="none" stroke="#000" stroke-width="0.92"/>
<circle cx="294.3" cy="237.8" r="1.7" fill="none" stroke="#000" stroke-width="0.92"/>
<circle cx="295.5" cy="237.2" r="1.7" fill="none" stroke="#000" stroke-width="0.92"/>
<circle cx="297.6" cy="236.9" r="1.7" fill="none" stroke="#000" stroke-width="0.92"/>
<circle cx="298.3" cy="237.2" r="1.7" fill="none" stroke="#000" stroke-width="0.92"/>
<circle cx="299.4" cy="237.4" r="1.7" fill="none" stroke="#000" stroke-width="0.92"/>
<circle cx="301.0" cy="237.3" r="1.7" fill="none" stroke="#000" stroke-width="0.92"/>
<circle cx="301.9" cy="237.0" r="1.7" fill="none" stroke="#000" stroke-width="0.92"/>
<circle cx="302.9" cy="237.3" r="1.7" fill="none" stroke="#000" stroke-width="0.92"/>
<circle cx="303.9" cy="237.0" r="1.7" fill="none" stroke="#000" stroke-width="0.92"/>
<circle cx="305.1" cy="236.5" r="1.7" fill="none" stroke="#000" stroke-width="0.92"/>
<circle cx="307.4" cy="237.5" r="1.7" fill="none" stroke="#000" stroke-width="0.92"/>
<circle cx="308.4" cy="237.8" r="1.7" fill="none" stroke="#000" stroke-width="0.92"/>
<circle cx="309.1" cy="237.0" r="1.7" fill="none" stroke="#000" stroke-width="0.92"/>
<circle cx="310.2" cy="237.5" r="1.7" fill="none" stroke="#000" stroke-width="0.92"/>
<circle cx="311.2" cy="236.7" r="1.7" fill="none" stroke="#000" stroke-width="0.92"/>
<circle cx="313.2" cy="236.7" r="1.7" fill="none" stroke="#000" stroke-width="0.92"/>
<circle cx="314.0" cy="237.1" r="1.7" fill="none" stroke="#000" stroke-width="0.92"/>
<circle cx="315.1" cy="237.2" r="1.7" fill="none" stroke="#000" stroke-width="0.92"/>
<circle cx="316.5" cy="236.9" r="1.7" fill="none" stroke="#000" stroke-width="0.92"/>
<circle cx="318.5" cy="237.5" r="1.7" fill="none" stroke="#000" stroke-width="0.92"/>
<circle cx="318.8" cy="237.4" r="1.7" fill="none" stroke="#000" stroke-width="0.92"/>
<circle cx="320.2" cy="237.1" r="1.7" fill="none" stroke="#000" stroke-width="0.92"/>
<circle cx="321.5" cy="236.2" r="1.7" fill="none" stroke="#000" stroke-width="0.92"/>
<circle cx="322.3" cy="236.4" r="1.7" fill="none" stroke="#000" stroke-width="0.92"/>
<circle cx="324.6" cy="236.8" r="1.7" fill="none" stroke="#000" stroke-width="0.92"/>
<circle cx="324.9" cy="236.2" r="1.7" fill="none" stroke="#000" stroke-width="0.92"/>
<circle cx="325.9" cy="237.3" r="1.7" fill="none" stroke="#000" stroke-width="0.92"/>
<circle cx="327.6" cy="236.9" r="1.7" fill="none" stroke="#000" stroke-width="0.92"/>
<circle cx="328.4" cy="236.1" r="1.7" fill="none" stroke="#000" stroke-width="0.92"/>
<circle cx="329.6" cy="237.4" r="1.7" fill="none" stroke="#000" stroke-width="0.92"/>
<circle cx="331.1" cy="236.9" r="1.7" fill="none" stroke="#000" stroke-width="0.92"/>
<circle cx="272.6" cy="233.3" r="1.7" fill="none" stroke="#000" stroke-width="0.92"/>
<circle cx="273.0" cy="232.5" r="1.7" fill="none" stroke="#000" stroke-width="0.92"/>
<circle cx="274.3" cy="233.0" r="1.7" fill="none" stroke="#000" stroke-width="0.92"/>
<circle cx="274.9" cy="233.3" r="1.7" fill="none" stroke="#000" stroke-width="0.92"/>
<circle cx="275.4" cy="233.9" r="1.7" fill="none" stroke="#000" stroke-width="0.92"/>
<circle cx="276.5" cy="234.4" r="1.7" fill="none" stroke="#000" stroke-width="0.92"/>
<circle cx="277.4" cy="233.4" r="1.7" fill="none" stroke="#000" stroke-width="0.92"/>
<circle cx="277.5" cy="233.3" r="1.7" fill="none" stroke="#000" stroke-width="0.92"/>
<circle cx="278.5" cy="233.2" r="1.7" fill="none" stroke="#000" stroke-width="0.92"/>
<circle cx="279.8" cy="236.0" r="1.7" fill="none" stroke="#000" stroke-width="0.92"/>
<circle cx="280.2" cy="235.8" r="1.7" fill="none" stroke="#000" stroke-width="0.92"/>
<circle cx="281.0" cy="237.0" r="1.7" fill="none" stroke="#000" stroke-width="0.92"/>
<circle cx="282.2" cy="237.2" r="1.7" fill="none" stroke="#000" stroke-width="0.92"/>
<circle cx="282.8" cy="238.2" r="1.7" fill="none" stroke="#000" stroke-width="0.92"/>
<circle cx="325.5" cy="236.8" r="1.7" fill="none" stroke="#000" stroke-width="0.92"/>
<circle cx="325.8" cy="236.1" r="1.7" fill="none" stroke="#000" stroke-width="0.92"/>
<circle cx="326.4" cy="236.1" r="1.7" fill="none" stroke="#000" stroke-width="0.92"/>
<circle cx="326.9" cy="237.2" r="1.7" fill="none" stroke="#000" stroke-width="0.92"/>
<circle cx="327.6" cy="236.5" r="1.7" fill="none" stroke="#000" stroke-width="0.92"/>
<circle cx="328.1" cy="236.1" r="1.7" fill="none" stroke="#000" stroke-width="0.92"/>
<circle cx="328.7" cy="236.0" r="1.7" fill="none" stroke="#000" stroke-width="0.92"/>
<circle cx="329.9" cy="236.2" r="1.7" fill="none" stroke="#000" stroke-width="0.92"/>
<circle cx="330.5" cy="236.6" r="1.7" fill="none" stroke="#000" stroke-width="0.92"/>
<circle cx="330.6" cy="236.2" r="1.7" fill="none" stroke="#000" stroke-width="0.92"/>
<circle cx="331.2" cy="235.4" r="1.7" fill="none" stroke="#000" stroke-width="0.92"/>
<circle cx="332.1" cy="236.1" r="1.7" fill="none" stroke="#000" stroke-width="0.92"/>
<circle cx="332.6" cy="235.5" r="1.7" fill="none" stroke="#000" stroke-width="0.92"/>
<circle cx="333.4" cy="236.2" r="1.7" fill="none" stroke="#000" stroke-width="0.92"/>
<circle cx="334.1" cy="236.2" r="1.7" fill="none" stroke="#000" stroke-width="0.92"/>
<circle cx="334.3" cy="235.3" r="1.7" fill="none" stroke="#000" stroke-width="0.92"/>
<circle cx="335.4" cy="235.6" r="1.7" fill="none" stroke="#000" stroke-width="0.92"/>
<circle cx="335.7" cy="236.2" r="1.7" fill="none" stroke="#000" stroke-width="0.92"/>
<circle cx="336.6" cy="235.7" r="1.7" fill="none" stroke="#000" stroke-width="0.92"/>
<circle cx="336.9" cy="235.9" r="1.7" fill="none" stroke="#000" stroke-width="0.92"/>
<circle cx="337.4" cy="235.9" r="1.7" fill="none" stroke="#000" stroke-width="0.92"/>
<circle cx="338.2" cy="235.0" r="1.7" fill="none" stroke="#000" stroke-width="0.92"/>
<circle cx="338.8" cy="235.9" r="1.7" fill="none" stroke="#000" stroke-width="0.92"/>
<circle cx="339.3" cy="235.3" r="1.7" fill="none" stroke="#000" stroke-width="0.92"/>
<circle cx="340.3" cy="234.4" r="1.7" fill="none" stroke="#000" stroke-width="0.92"/>
<circle cx="340.5" cy="234.0" r="1.7" fill="none" stroke="#000" stroke-width="0.92"/>
<circle cx="341.4" cy="235.4" r="1.7" fill="none" stroke="#000" stroke-width="0.92"/>
<circle cx="342.2" cy="234.2" r="1.7" fill="none" stroke="#000" stroke-width="0.92"/>
<circle cx="342.3" cy="234.9" r="1.7" fill="none" stroke="#000" stroke-width="0.92"/>
<circle cx="343.0" cy="235.1" r="1.7" fill="none" stroke="#000" stroke-width="0.92"/>
<circle cx="344.1" cy="233.9" r="1.7" fill="none" stroke="#000" stroke-width="0.92"/>
<circle cx="344.4" cy="234.3" r="1.7" fill="none" stroke="#000" stroke-width="0.92"/>
<circle cx="345.3" cy="234.3" r="1.7" fill="none" stroke="#000" stroke-width="0.92"/>
<circle cx="345.9" cy="234.7" r="1.7" fill="none" stroke="#000" stroke-width="0.92"/>
<circle cx="347.5" cy="234.6" r="1.7" fill="none" stroke="#000" stroke-width="0.92"/>
<circle cx="344.5" cy="233.2" r="1.7" fill="none" stroke="#000" stroke-width="0.92"/>
<circle cx="351.0" cy="233.8" r="1.7" fill="none" stroke="#000" stroke-width="0.92"/>
<circle cx="350.0" cy="234.2" r="1.7" fill="none" stroke="#000" stroke-width="0.92"/>
<circle cx="349.0" cy="233.5" r="1.7" fill="none" stroke="#000" stroke-width="0.92"/>
<polyline fill="none" stroke="#08f208" stroke-width="1.9" stroke-linejoin="round"  points="140.8,141.3 180.0,128.3 231.5,109.4 243.2,107.6 250.9,107.1 257.8,118.2 265.2,177.9 271.9,214.0 280.9,233.5 288.0,237.5 294.9,239.0 301.8,239.8 316.5,240.5 331.1,241.2 351.2,242.2"/>
<rect x="138.4" y="138.9" width="4.8" height="4.8" fill="#08f208"/>
<rect x="144.1" y="137.0" width="4.8" height="4.8" fill="#08f208"/>
<rect x="149.7" y="135.1" width="4.8" height="4.8" fill="#08f208"/>
<rect x="155.4" y="133.3" width="4.8" height="4.8" fill="#08f208"/>
<rect x="161.1" y="131.4" width="4.8" height="4.8" fill="#08f208"/>
<rect x="166.7" y="129.5" width="4.8" height="4.8" fill="#08f208"/>
<rect x="172.4" y="127.6" width="4.8" height="4.8" fill="#08f208"/>
<rect x="178.1" y="125.7" width="4.8" height="4.8" fill="#08f208"/>
<rect x="183.8" y="123.6" width="4.8" height="4.8" fill="#08f208"/>
<rect x="189.4" y="121.6" width="4.8" height="4.8" fill="#08f208"/>
<rect x="195.1" y="119.5" width="4.8" height="4.8" fill="#08f208"/>
<rect x="200.8" y="117.4" width="4.8" height="4.8" fill="#08f208"/>
<rect x="206.4" y="115.3" width="4.8" height="4.8" fill="#08f208"/>
<rect x="212.1" y="113.2" width="4.8" height="4.8" fill="#08f208"/>
<rect x="217.8" y="111.2" width="4.8" height="4.8" fill="#08f208"/>
<rect x="223.4" y="109.1" width="4.8" height="4.8" fill="#08f208"/>
<rect x="229.1" y="107.0" width="4.8" height="4.8" fill="#08f208"/>
<rect x="235.1" y="106.1" width="4.8" height="4.8" fill="#08f208"/>
<rect x="240.8" y="105.2" width="4.8" height="4.8" fill="#08f208"/>
<rect x="248.5" y="104.7" width="4.8" height="4.8" fill="#08f208"/>
<rect x="255.4" y="115.8" width="4.8" height="4.8" fill="#08f208"/>
<rect x="262.8" y="175.5" width="4.8" height="4.8" fill="#08f208"/>
<rect x="269.5" y="211.6" width="4.8" height="4.8" fill="#08f208"/>
<rect x="278.5" y="231.1" width="4.8" height="4.8" fill="#08f208"/>
<rect x="285.6" y="235.1" width="4.8" height="4.8" fill="#08f208"/>
<rect x="292.5" y="236.6" width="4.8" height="4.8" fill="#08f208"/>
<rect x="299.4" y="237.4" width="4.8" height="4.8" fill="#08f208"/>
<rect x="306.4" y="237.7" width="4.8" height="4.8" fill="#08f208"/>
<rect x="313.8" y="238.1" width="4.8" height="4.8" fill="#08f208"/>
<rect x="321.2" y="238.5" width="4.8" height="4.8" fill="#08f208"/>
<rect x="328.6" y="238.8" width="4.8" height="4.8" fill="#08f208"/>
<rect x="336.0" y="239.2" width="4.8" height="4.8" fill="#08f208"/>
<rect x="343.4" y="239.5" width="4.8" height="4.8" fill="#08f208"/>
<polyline fill="none" stroke="#f80808" stroke-width="1.8" stroke-linejoin="round"  points="128.0,145.8 180.0,128.6 231.3,108.9 241.5,111.4 245.8,121.3 248.9,135.0 253.9,155.8 258.9,180.0 264.3,206.1 270.1,227.5 273.0,236.0 276.9,241.0 282.0,242.6 307.5,242.8"/>
<path d="M128.0 143.3L128.0 148.3M130.2 144.6L125.8 147.1M130.2 147.1L125.8 144.6" stroke="#f80808" stroke-width="1.1" fill="none"/>
<path d="M134.0 141.3L134.0 146.3M136.2 142.6L131.8 145.1M136.2 145.1L131.8 142.6" stroke="#f80808" stroke-width="1.1" fill="none"/>
<path d="M141.0 139.0L141.0 144.0M143.2 140.2L138.8 142.8M143.2 142.8L138.8 140.2" stroke="#f80808" stroke-width="1.1" fill="none"/>
<path d="M150.0 136.0L150.0 141.0M152.2 137.2L147.8 139.8M152.2 139.8L147.8 137.2" stroke="#f80808" stroke-width="1.1" fill="none"/>
<path d="M160.0 132.7L160.0 137.7M162.2 133.9L157.8 136.4M162.2 136.4L157.8 133.9" stroke="#f80808" stroke-width="1.1" fill="none"/>
<path d="M171.0 129.1L171.0 134.1M173.2 130.3L168.8 132.8M173.2 132.8L168.8 130.3" stroke="#f80808" stroke-width="1.1" fill="none"/>
<path d="M183.0 125.0L183.0 130.0M185.2 126.2L180.8 128.8M185.2 128.8L180.8 126.2" stroke="#f80808" stroke-width="1.1" fill="none"/>
<path d="M196.0 120.1L196.0 125.1M198.2 121.3L193.8 123.8M198.2 123.8L193.8 121.3" stroke="#f80808" stroke-width="1.1" fill="none"/>
<path d="M209.0 115.2L209.0 120.2M211.2 116.5L206.8 119.0M211.2 119.0L206.8 116.5" stroke="#f80808" stroke-width="1.1" fill="none"/>
<path d="M221.0 110.5L221.0 115.5M223.2 111.8L218.8 114.2M223.2 114.2L218.8 111.8" stroke="#f80808" stroke-width="1.1" fill="none"/>
<path d="M231.3 105.9L231.3 111.9M233.9 107.4L228.7 110.4M233.9 110.4L228.7 107.4" stroke="#f80808" stroke-width="1.1" fill="none"/>
<path d="M241.5 108.4L241.5 114.4M244.1 109.9L238.9 112.9M244.1 112.9L238.9 109.9" stroke="#f80808" stroke-width="1.1" fill="none"/>
<path d="M245.8 118.3L245.8 124.3M248.4 119.8L243.2 122.8M248.4 122.8L243.2 119.8" stroke="#f80808" stroke-width="1.1" fill="none"/>
<path d="M248.9 132.0L248.9 138.0M251.5 133.5L246.3 136.5M251.5 136.5L246.3 133.5" stroke="#f80808" stroke-width="1.1" fill="none"/>
<path d="M253.9 152.8L253.9 158.8M256.5 154.3L251.3 157.3M256.5 157.3L251.3 154.3" stroke="#f80808" stroke-width="1.1" fill="none"/>
<path d="M258.9 177.0L258.9 183.0M261.5 178.5L256.3 181.5M261.5 181.5L256.3 178.5" stroke="#f80808" stroke-width="1.1" fill="none"/>
<path d="M264.3 203.1L264.3 209.1M266.9 204.6L261.7 207.6M266.9 207.6L261.7 204.6" stroke="#f80808" stroke-width="1.1" fill="none"/>
<path d="M270.1 224.5L270.1 230.5M272.7 226.0L267.5 229.0M272.7 229.0L267.5 226.0" stroke="#f80808" stroke-width="1.1" fill="none"/>
<path d="M276.9 238.0L276.9 244.0M279.5 239.5L274.3 242.5M279.5 242.5L274.3 239.5" stroke="#f80808" stroke-width="1.1" fill="none"/>
<path d="M285.0 239.7L285.0 245.7M287.6 241.2L282.4 244.2M287.6 244.2L282.4 241.2" stroke="#f80808" stroke-width="1.1" fill="none"/>
<path d="M292.0 239.8L292.0 245.8M294.6 241.3L289.4 244.3M294.6 244.3L289.4 241.3" stroke="#f80808" stroke-width="1.1" fill="none"/>
<path d="M299.0 239.8L299.0 245.8M301.6 241.3L296.4 244.3M301.6 244.3L296.4 241.3" stroke="#f80808" stroke-width="1.1" fill="none"/>
<path d="M306.0 239.8L306.0 245.8M308.6 241.3L303.4 244.3M308.6 244.3L303.4 241.3" stroke="#f80808" stroke-width="1.1" fill="none"/>
<rect x="135.3" y="163.4" width="4.3" height="4.3" fill="#fff" stroke="#7474f6" stroke-width="0.7"/>
<rect x="160.0" y="157.7" width="4.3" height="4.3" fill="#fff" stroke="#7474f6" stroke-width="0.7"/>
<rect x="178.9" y="152.3" width="4.3" height="4.3" fill="#fff" stroke="#7474f6" stroke-width="0.7"/>
<rect x="197.4" y="147.0" width="4.3" height="4.3" fill="#fff" stroke="#7474f6" stroke-width="0.7"/>
<rect x="218.0" y="143.0" width="4.3" height="4.3" fill="#fff" stroke="#7474f6" stroke-width="0.7"/>
<rect x="243.0" y="202.2" width="4.3" height="4.3" fill="#fff" stroke="#7474f6" stroke-width="0.7"/>
<rect x="265.1" y="242.7" width="4.3" height="4.3" fill="#fff" stroke="#7474f6" stroke-width="0.7"/>
<rect x="288.1" y="242.7" width="4.3" height="4.3" fill="#fff" stroke="#7474f6" stroke-width="0.7"/>
<rect x="310.2" y="242.2" width="4.3" height="4.3" fill="#fff" stroke="#7474f6" stroke-width="0.7"/>
<polyline fill="none" stroke="#000" stroke-width="1.75" stroke-linejoin="round"  points="60.5,373.4 149.9,337.5 174.8,328.7 187.7,319.6 193.2,317.0 197.2,314.8 210.8,312.3 221.4,303.1 234.6,299.4 247.4,293.8 247.4,317.3 260.7,405.3 274.8,446.2 284.9,443.3 302.1,442.3 324.1,440.5 332.0,439.7 351.2,439.6"/>
<path d="M149.9 334.3l2.9 5.0h-5.8z" fill="#fff" stroke="#444" stroke-width="0.65"/>
<path d="M174.8 325.5l2.9 5.0h-5.8z" fill="#fff" stroke="#444" stroke-width="0.65"/>
<path d="M187.7 316.4l2.9 5.0h-5.8z" fill="#fff" stroke="#444" stroke-width="0.65"/>
<path d="M193.2 313.8l2.9 5.0h-5.8z" fill="#fff" stroke="#444" stroke-width="0.65"/>
<path d="M197.2 311.6l2.9 5.0h-5.8z" fill="#fff" stroke="#444" stroke-width="0.65"/>
<path d="M210.8 309.1l2.9 5.0h-5.8z" fill="#fff" stroke="#444" stroke-width="0.65"/>
<path d="M221.4 299.9l2.9 5.0h-5.8z" fill="#fff" stroke="#444" stroke-width="0.65"/>
<path d="M234.6 296.2l2.9 5.0h-5.8z" fill="#fff" stroke="#444" stroke-width="0.65"/>
<path d="M247.4 290.6l2.9 5.0h-5.8z" fill="#fff" stroke="#444" stroke-width="0.65"/>
<path d="M247.4 314.1l2.9 5.0h-5.8z" fill="#fff" stroke="#444" stroke-width="0.65"/>
<path d="M260.7 402.1l2.9 5.0h-5.8z" fill="#fff" stroke="#444" stroke-width="0.65"/>
<path d="M274.8 443.0l2.9 5.0h-5.8z" fill="#fff" stroke="#444" stroke-width="0.65"/>
<path d="M284.9 440.1l2.9 5.0h-5.8z" fill="#fff" stroke="#444" stroke-width="0.65"/>
<path d="M302.1 439.1l2.9 5.0h-5.8z" fill="#fff" stroke="#444" stroke-width="0.65"/>
<path d="M324.1 437.3l2.9 5.0h-5.8z" fill="#fff" stroke="#444" stroke-width="0.65"/>
<path d="M332.0 436.5l2.9 5.0h-5.8z" fill="#fff" stroke="#444" stroke-width="0.65"/>
<polyline fill="none" stroke="#08f208" stroke-width="1.9" stroke-linejoin="round"  points="60.5,404.7 82.8,397.8 148.2,373.0 209.7,353.4 213.8,348.3 243.3,340.5 269.1,355.0 277.0,403.6 302.1,463.8 313.1,465.6 326.8,465.6 347.6,465.1 351.2,465.1"/>
<circle cx="82.8" cy="398.1" r="2.9" fill="#08f208"/>
<circle cx="148.2" cy="373.3" r="2.9" fill="#08f208"/>
<circle cx="209.7" cy="353.7" r="2.9" fill="#08f208"/>
<circle cx="213.8" cy="348.6" r="2.9" fill="#08f208"/>
<circle cx="243.3" cy="340.8" r="2.9" fill="#08f208"/>
<circle cx="269.1" cy="355.3" r="2.9" fill="#08f208"/>
<circle cx="277.0" cy="403.9" r="2.9" fill="#08f208"/>
<circle cx="302.1" cy="464.1" r="2.9" fill="#08f208"/>
<circle cx="313.1" cy="465.9" r="2.9" fill="#08f208"/>
<circle cx="326.8" cy="465.9" r="2.9" fill="#08f208"/>
<circle cx="347.6" cy="465.4" r="2.9" fill="#08f208"/>
<text transform="translate(56.2,76.8) scale(0.97,1.07)" font-size="8.4" text-anchor="end"  fill="#1a1a1a">250</text>
<text transform="translate(56.2,127.3) scale(0.97,1.07)" font-size="8.4" text-anchor="end"  fill="#1a1a1a">200</text>
<text transform="translate(56.2,177.8) scale(0.97,1.07)" font-size="8.4" text-anchor="end"  fill="#1a1a1a">150</text>
<text transform="translate(56.2,228.4) scale(0.97,1.07)" font-size="8.4" text-anchor="end"  fill="#1a1a1a">100</text>
<text transform="translate(56.2,278.9) scale(0.97,1.07)" font-size="8.4" text-anchor="end"  fill="#1a1a1a">50</text>
<text transform="translate(56.2,344.0) scale(0.97,1.07)" font-size="8.4" text-anchor="end"  fill="#1a1a1a">200</text>
<text transform="translate(56.2,407.2) scale(0.97,1.07)" font-size="8.4" text-anchor="end"  fill="#1a1a1a">150</text>
<text transform="translate(56.2,470.5) scale(0.97,1.07)" font-size="8.4" text-anchor="end"  fill="#1a1a1a">100</text>
<text transform="translate(60.7,286.5) scale(0.94,1.0)" font-size="10.1" text-anchor="middle"  fill="#1a1a1a">14</text>
<text transform="translate(60.7,503.4) scale(0.94,1.0)" font-size="10.1" text-anchor="middle"  fill="#1a1a1a">14</text>
<text transform="translate(206.0,286.5) scale(0.94,1.0)" font-size="10.1" text-anchor="middle"  fill="#1a1a1a">16</text>
<text transform="translate(206.0,503.4) scale(0.94,1.0)" font-size="10.1" text-anchor="middle"  fill="#1a1a1a">16</text>
<text transform="translate(350.8,286.5) scale(0.94,1.0)" font-size="10.1" text-anchor="middle"  fill="#1a1a1a">18</text>
<text transform="translate(350.8,503.4) scale(0.94,1.0)" font-size="10.1" text-anchor="middle"  fill="#1a1a1a">18</text>
<text transform="translate(67.0,88.8) scale(1.001,1.06)" font-size="12.0" text-anchor="start" font-weight="bold" >a</text>
<text transform="translate(74.3,88.8) scale(1.001,1.06)" font-size="12.0" text-anchor="start" font-weight="bold" >)</text>
<text x="94.6" y="91.7" font-size="13" font-family="Liberation Serif, serif">μ</text>
<text x="101.2" y="93.0" font-size="6.3" font-weight="bold">o</text>
<text transform="translate(105.4,92.3) scale(1.001,1.06)" font-size="12.0" text-anchor="start" font-weight="bold" >H</text>
<text transform="translate(117.6,92.3) scale(1.12,1.06)" font-size="12.0" text-anchor="start" font-weight="bold" >=</text>
<text transform="translate(129.3,92.3) scale(1.001,1.06)" font-size="12.0" text-anchor="start" font-weight="bold" >0</text>
<text transform="translate(139.9,92.3) scale(1.001,1.06)" font-size="12.0" text-anchor="start" font-weight="bold" >T</text>
<text transform="translate(306.9,91.0) scale(1.001,1.06)" font-size="12.0" text-anchor="start" font-weight="bold" >V</text>
<text x="315.9" y="94.2" font-size="10.2" text-anchor="start" font-weight="bold" >3</text>
<text transform="translate(322.4,91.0) scale(1.001,1.06)" font-size="12.0" text-anchor="start" font-weight="bold" >Si</text>
<text transform="translate(71.9,309.5) scale(1.001,1.06)" font-size="12.0" text-anchor="start" font-weight="bold" >b</text>
<text transform="translate(80.2,309.5) scale(1.001,1.06)" font-size="12.0" text-anchor="start" font-weight="bold" >)</text>
<text x="99.3" y="310.0" font-size="13" font-family="Liberation Serif, serif">μ</text>
<text x="105.9" y="311.3" font-size="6.3" font-weight="bold">o</text>
<text transform="translate(110.1,310.6) scale(1.001,1.06)" font-size="12.0" text-anchor="start" font-weight="bold" >H</text>
<text transform="translate(122.3,310.6) scale(1.12,1.06)" font-size="12.0" text-anchor="start" font-weight="bold" >=</text>
<text transform="translate(134.0,310.6) scale(1.001,1.06)" font-size="12.0" text-anchor="start" font-weight="bold" >0</text>
<text transform="translate(144.6,310.6) scale(1.001,1.06)" font-size="12.0" text-anchor="start" font-weight="bold" >T</text>
<text transform="translate(310.6,309.0) scale(1.001,1.06)" font-size="12.0" text-anchor="start" font-weight="bold" >V</text>
<text x="319.6" y="312.2" font-size="10.2" text-anchor="start" font-weight="bold" >3</text>
<text transform="translate(326.1,309.0) scale(1.001,1.06)" font-size="12.0" text-anchor="start" font-weight="bold" >Si</text>
<text x="194.2" y="514.3" font-size="10.4" text-anchor="start" font-weight="bold" >T</text>
<text x="203.0" y="514.3" font-size="10.4" text-anchor="start" font-weight="bold" >(K)</text>
<text transform="translate(37.7,222.7) rotate(-90) scale(1,1.1)" font-size="9.8" font-weight="bold">c</text>
<text transform="translate(39.6,217.7) rotate(-90) scale(1,1.1)" font-size="9" font-weight="bold">p</text>
<text transform="translate(37.7,211.9) rotate(-90) scale(1,1.1)" font-size="9.6" font-weight="bold">/T (mJ</text>
<text transform="translate(37.7,179.3) rotate(-90) scale(1,1.1)" font-size="9.6" font-weight="bold">mole</text>
<text transform="translate(34.4,156.4) rotate(-90) scale(1,1.1)" font-size="8.8" font-weight="bold">-</text>
<text transform="translate(34.4,153.3) rotate(-90) scale(1,1.1)" font-size="8.8" font-weight="bold">1</text>
<text transform="translate(37.7,144.9) rotate(-90) scale(1,1.1)" font-size="9.6" font-weight="bold">K</text>
<text transform="translate(34.4,138.3) rotate(-90) scale(1,1.1)" font-size="8.8" font-weight="bold">-</text>
<text transform="translate(34.4,135.3) rotate(-90) scale(1,1.1)" font-size="8.8" font-weight="bold">2</text>
<text transform="translate(38.0,130.4) rotate(-90) scale(1,1.1)" font-size="9.8" font-weight="bold">)</text>
<text transform="translate(36.6,438.0) rotate(-90) scale(1,1.1)" font-size="9.8" font-weight="bold">c</text>
<text transform="translate(38.5,432.4) rotate(-90) scale(1,1.1)" font-size="9" font-weight="bold">p</text>
<text transform="translate(36.6,425.6) rotate(-90) scale(1,1.1)" font-size="9.6" font-weight="bold">/T (mJ</text>
<text transform="translate(36.6,394.0) rotate(-90) scale(1,1.1)" font-size="9.6" font-weight="bold">mole</text>
<text transform="translate(33.3,371.1) rotate(-90) scale(1,1.1)" font-size="8.8" font-weight="bold">-</text>
<text transform="translate(33.3,368.0) rotate(-90) scale(1,1.1)" font-size="8.8" font-weight="bold">1</text>
<text transform="translate(36.6,359.6) rotate(-90) scale(1,1.1)" font-size="9.6" font-weight="bold">K</text>
<text transform="translate(33.3,353.0) rotate(-90) scale(1,1.1)" font-size="8.8" font-weight="bold">-</text>
<text transform="translate(33.3,349.2) rotate(-90) scale(1,1.1)" font-size="8.8" font-weight="bold">2</text>
<text transform="translate(36.9,345.1) rotate(-90) scale(1,1.1)" font-size="9.8" font-weight="bold">)</text>
</svg>
</body></html>
